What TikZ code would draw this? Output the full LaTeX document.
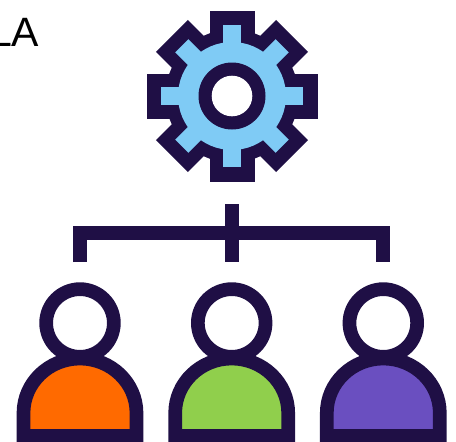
\documentclass[tikz,border=0pt]{standalone}
\usepackage{fontspec}
\setmainfont{Liberation Sans}
\usetikzlibrary{calc}
\definecolor{inkdark}{HTML}{1F0F45}
\definecolor{gearblue}{HTML}{7FCBF5}
\definecolor{bodyorange}{HTML}{FF6A00}
\definecolor{bodygreen}{HTML}{90CF4C}
\definecolor{bodypurple}{HTML}{6A4FC0}
\tikzset{
  bracket/.style={draw=inkdark,line width=14pt},
  head/.style={draw=inkdark,line width=13.7pt,fill=white,circle,minimum size=67.7pt,inner sep=0pt},
  torso/.style={draw=inkdark,line width=13.7pt,miter limit=10}
}

\begin{document}
\begin{tikzpicture}[x=1pt,y=-1pt]
        \useasboundingbox (0,0) rectangle (456,442);
        \node[anchor=base west,inner sep=0pt,font=\fontsize{41}{41}\selectfont] (title) at (-11,46) {LA};

        \begin{scope}[shift={(232,96)}]
          \fill[inkdark] (0,0) circle (66.5);
          \fill[inkdark] (-22.5,-85.5) rectangle (22.5,85.5);
          \fill[inkdark] (-85.5,-22.5) rectangle (85.5,22.5);
          \fill[inkdark,rotate=45] (-22.5,-85) rectangle (22.5,85);
          \fill[inkdark,rotate=45] (-85,-22.5) rectangle (85,22.5);
          \fill[gearblue] (0,0) circle (54);
          \fill[gearblue] (-9.3,-71) rectangle (9.3,71);
          \fill[gearblue] (-71,-9.3) rectangle (71,9.3);
          \fill[gearblue,rotate=45] (-9.3,-71) rectangle (9.3,71);
          \fill[gearblue,rotate=45] (-71,-9.3) rectangle (71,9.3);
          \fill[inkdark] (0,0) circle (33.5);
          \fill[white] (0,0) circle (20.3);
        \end{scope}

        \coordinate (stem) at (232,204);
        \coordinate (stemend) at (232,262);
        \coordinate (bar) at (232,233);
        \coordinate (dropA) at (80,262);
        \coordinate (dropC) at (383,262);
        \draw[bracket] (dropA) |- (bar) -| (dropC);
        \draw[bracket] (stem) -- (stemend);

        \draw[torso,fill=bodyorange] (23.5,436) -- (23.5,413) arc[start angle=180,end angle=360,x radius=56.5,y radius=54.5] -- (136.5,436) -- cycle;
        \draw[torso,fill=bodygreen] (175.2,436) -- (175.2,413) arc[start angle=180,end angle=360,x radius=56.5,y radius=54.5] -- (288.2,436) -- cycle;
        \draw[torso,fill=bodypurple] (326.8,436) -- (326.8,413) arc[start angle=180,end angle=360,x radius=56.5,y radius=54.5] -- (439.8,436) -- cycle;

        \node[head] (headA) at (80,323) {};
        \node[head] (headB) at (231.7,323) {};
        \node[head] (headC) at (383.3,323) {};
\end{tikzpicture}
\end{document}
